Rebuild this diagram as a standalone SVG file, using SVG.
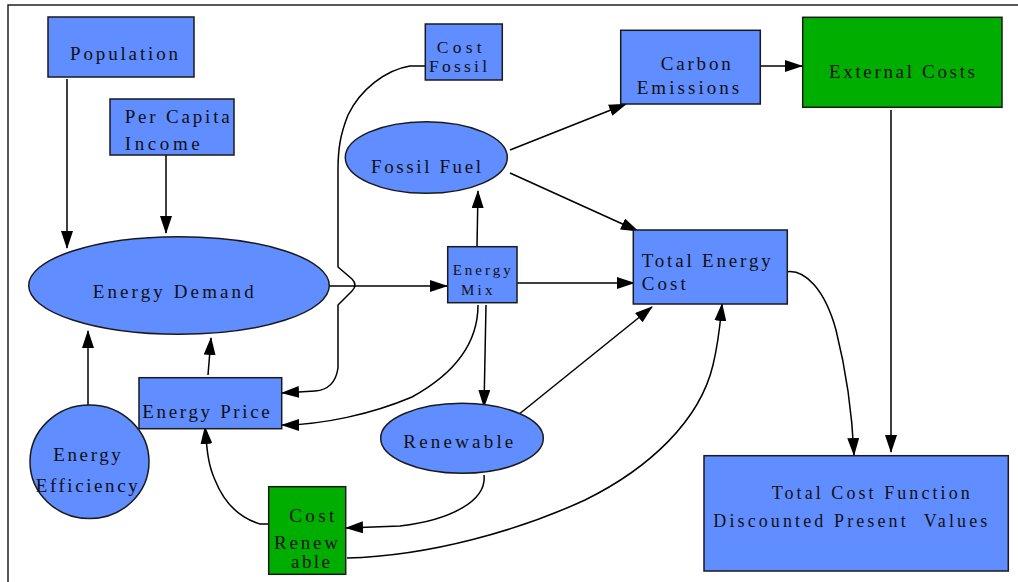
<svg xmlns="http://www.w3.org/2000/svg" width="1018" height="582" viewBox="0 0 1018 582">
<defs>
<marker id="ah" viewBox="0 0 18 12" markerWidth="18" markerHeight="12" refX="17" refY="6" orient="auto" markerUnits="userSpaceOnUse">
<path d="M0,0 L18,6 L0,12 Z" fill="#000"/>
</marker>
<style>
.b{fill:#608dff;stroke:#1a1a1a;stroke-width:1.5}
.g{fill:#00ae00;stroke:#1a1a1a;stroke-width:1.5}
text{font-family:"Liberation Serif","Times New Roman",serif;font-size:19px;fill:#111;white-space:pre}
.s{font-size:15px}
.m{font-size:18px}
.c{font-size:17.5px}
#connectors path,#connectors line{fill:none;stroke:#000;stroke-width:1.5;marker-end:url(#ah)}
</style>
</defs>
<rect width="1018" height="582" fill="#fff"/>
<path d="M8,582 L8,5 L1018,5" fill="none" stroke="#222" stroke-width="1.5"/>

<g id="connectors">
<line x1="67" y1="79" x2="67" y2="248"/>
<line x1="166" y1="155" x2="166" y2="233"/>
<line x1="329" y1="286" x2="447" y2="286"/>
<line x1="477" y1="246" x2="478" y2="191"/>
<line x1="510" y1="150" x2="626" y2="104"/>
<line x1="510" y1="173" x2="638" y2="231"/>
<line x1="755" y1="66" x2="802" y2="66"/>
<line x1="515" y1="283" x2="634" y2="283"/>
<line x1="891" y1="110" x2="891" y2="452"/>
<path d="M785,272 C805,268 825,290 836,330 C846,370 852,410 854,455"/>
<path d="M427,66 L410,66 C385,70 360,90 348,115 C340,135 338,150 338,170 L338,267 L352,279 Q358,285 352,291 L338,305 L338,368 C336,382 328,390 315,391 L282,393"/>
<path d="M478,305 C478,345 452,375 412,397 C372,414 322,425 282,425"/>
<line x1="486" y1="305" x2="484" y2="407"/>
<line x1="518" y1="415" x2="652" y2="307"/>
<path d="M484,475 C487,500 452,520 400,526 L346,528"/>
<path d="M272,524 L260,524 C240,518 225,505 215,480 C208,465 207,450 205,427"/>
<path d="M347,558 C430,556 520,530 585,500 C650,468 700,420 713,365 C719,340 720,325 722,304"/>
<line x1="208" y1="375" x2="211" y2="338"/>
<line x1="88" y1="405" x2="88" y2="331"/>
</g>

<g id="population"><rect class="b" x="48" y="17" width="146" height="60"/><text x="70" y="59.5" textLength="108" lengthAdjust="spacing">Population</text></g>
<g id="percapita"><rect class="b" x="110" y="99" width="124" height="56"/><text x="124.7" y="123.3" textLength="105" lengthAdjust="spacing">Per Capita</text><text x="124.7" y="150" textLength="75" lengthAdjust="spacing">Income</text></g>
<g id="costfossil"><rect class="b" x="425.3" y="24" width="77" height="56"/><text class="c" x="436.7" y="53" textLength="45" lengthAdjust="spacing">Cost</text><text class="c" x="429" y="72" textLength="58" lengthAdjust="spacing">Fossil</text></g>
<g id="fossilfuel"><ellipse class="b" cx="426.3" cy="157.5" rx="81" ry="35.8"/><text x="371" y="172.7" textLength="110" lengthAdjust="spacing">Fossil Fuel</text></g>
<g id="energydemand"><ellipse class="b" cx="179" cy="285.5" rx="150.3" ry="48.8"/><text x="92.7" y="298" textLength="161" lengthAdjust="spacing">Energy Demand</text></g>
<g id="energymix"><rect class="b" x="447.7" y="246.7" width="69.3" height="56"/><text class="s" x="452.7" y="275" textLength="58" lengthAdjust="spacing">Energy</text><text class="s" x="461" y="295" textLength="31.5" lengthAdjust="spacing">Mix</text></g>
<g id="carbon"><rect class="b" x="620.7" y="30.3" width="139.6" height="73.7"/><text x="660.7" y="70" textLength="70" lengthAdjust="spacing">Carbon</text><text x="636.7" y="94.3" textLength="102.5" lengthAdjust="spacing">Emissions</text></g>
<g id="external"><rect class="g" x="802.7" y="17.3" width="199.3" height="90"/><text x="829" y="78.3" textLength="146" lengthAdjust="spacing">External Costs</text></g>
<g id="totalenergycost"><rect class="b" x="633.3" y="230" width="154" height="74"/><text x="641.7" y="266.7" textLength="129" lengthAdjust="spacing">Total Energy</text><text x="641.7" y="290" textLength="44" lengthAdjust="spacing">Cost</text></g>
<g id="energyprice"><rect class="b" x="139" y="377.7" width="142.7" height="51"/><text x="142.3" y="417.7" textLength="127.5" lengthAdjust="spacing">Energy Price</text></g>
<g id="efficiency"><ellipse class="b" cx="89.5" cy="461.8" rx="59.5" ry="56.8"/><text x="53.3" y="461" textLength="67.5" lengthAdjust="spacing">Energy</text><text x="35.7" y="492.3" textLength="102" lengthAdjust="spacing">Efficiency</text></g>
<g id="renewable"><ellipse class="b" cx="462" cy="438.3" rx="81.3" ry="35"/><text x="403.3" y="447.7" textLength="110" lengthAdjust="spacing">Renewable</text></g>
<g id="costrenewable"><rect class="g" x="268.7" y="486.7" width="77" height="87.6"/><text x="289.3" y="522.3" textLength="45" lengthAdjust="spacing">Cost</text><text x="274" y="548.7" textLength="64" lengthAdjust="spacing">Renew</text><text x="291" y="567.7" textLength="39" lengthAdjust="spacing">able</text></g>
<g id="totalcostfunction"><rect class="b" x="704" y="455.7" width="304.3" height="115.3"/><text class="m" x="771.7" y="499" textLength="198" lengthAdjust="spacing">Total Cost Function</text><text class="m" x="713.3" y="526.7" textLength="274" lengthAdjust="spacing">Discounted Present  Values</text></g>
</svg>
